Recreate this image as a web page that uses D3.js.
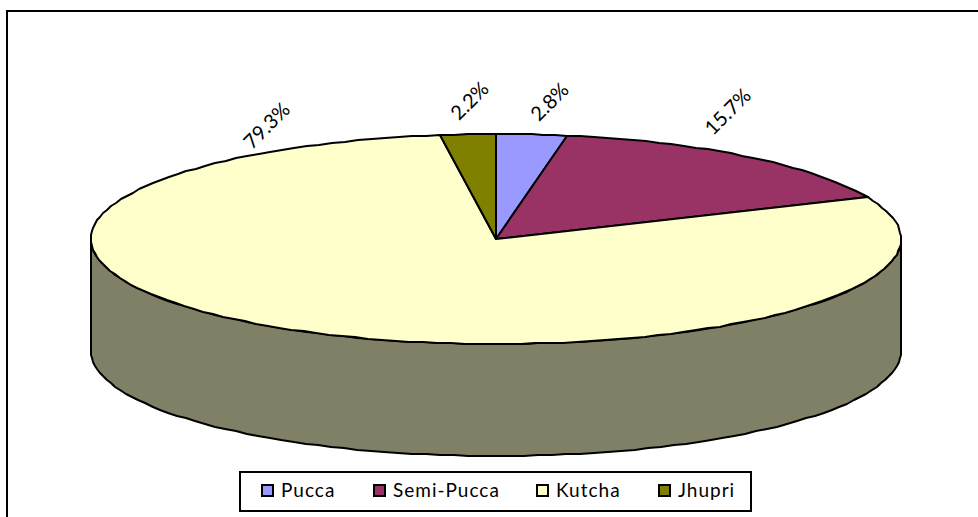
<!DOCTYPE html>
<html>
<head>
<meta charset="utf-8">
<script src="https://cdn.jsdelivr.net/npm/d3@7"></script>
<style>
  html, body { margin: 0; padding: 0; background: #fff; }
  svg { display: block; }
  text { font-family: Lato, "Open Sans", sans-serif; fill: #000; }
</style>
</head>
<body>
<script>
// values, percent of households
var categories = ["Pucca", "Semi-Pucca", "Kutcha", "Jhupri"];
var shares = [2.8, 15.7, 79.3, 2.2];
var shareLabels = ["2.8%", "15.7%", "79.3%", "2.2%"];

var colors = ["#9999FF", "#993366", "#FFFFCC", "#808000"];
var sideColor = "#808066";

var width = 978, height = 517;
var cx = 496, cy = 239, rx = 405, ry = 105, depth = 112;

// the labels were placed by hand in the original, not along the slice middle
var labelSpots = { "Pucca": [549, 101], "Semi-Pucca": [727, 111], "Kutcha": [266, 125], "Jhupri": [469, 100] };
var legendSpots = { "Pucca": 262, "Semi-Pucca": 374, "Kutcha": 537, "Jhupri": 659 };

var svg = d3.select("body").append("svg")
  .attr("width", width)
  .attr("height", height);

// chart frame, runs off the right and bottom of the image
svg.append("rect")
  .attr("x", 7).attr("y", 11)
  .attr("width", 1000).attr("height", 600)
  .attr("fill", "#fff")
  .attr("stroke", "#000")
  .attr("stroke-width", 2);

var pie = d3.pie().sort(null).value(function(d) { return d.value; });
var slices = pie(categories.map(function(c, i) {
  return { name: c, value: shares[i], color: colors[i], label: shareLabels[i] };
}));

// squashed circle: angle is clockwise from the top
function px(a) { return cx + rx * Math.sin(a); }
function py(a) { return cy - ry * Math.cos(a); }

var line = d3.line().curve(d3.curveLinear);

// whole pixels and short straight runs give the stepped rim of the original
function arcPoints(a0, a1, dy) {
  var n = Math.max(2, Math.ceil((a1 - a0) / 0.035));
  return d3.range(n + 1).map(function(i) {
    var a = a0 + (a1 - a0) * i / n;
    return [Math.round(px(a)), Math.round(py(a)) + dy];
  });
}

// side wall, only the front half of the rim shows
var front = arcPoints(Math.PI / 2, Math.PI * 3 / 2, 0);
var frontBottom = arcPoints(Math.PI / 2, Math.PI * 3 / 2, depth).reverse();
svg.append("path")
  .attr("d", line(front.concat(frontBottom)) + "Z")
  .attr("fill", sideColor)
  .attr("stroke", "#000")
  .attr("stroke-width", 2)
  .attr("stroke-linejoin", "round");

// top of the pie
svg.selectAll("path.slice")
  .data(slices)
  .enter()
  .append("path")
  .attr("class", "slice")
  .attr("d", function(d) {
    return line([[cx, cy]].concat(arcPoints(d.startAngle, d.endAngle, 0))) + "Z";
  })
  .attr("fill", function(d) { return d.data.color; })
  .attr("stroke", "#000")
  .attr("stroke-width", 2)
  .attr("stroke-linejoin", "round");

// data labels, turned 45 degrees
svg.selectAll("text.pct")
  .data(slices)
  .enter()
  .append("text")
  .attr("class", "pct")
  .attr("text-anchor", "middle")
  .attr("dominant-baseline", "central")
  .attr("font-size", 20)
  .attr("transform", function(d) {
    var p = labelSpots[d.data.name];
    return "translate(" + p[0] + "," + p[1] + ")rotate(-45)";
  })
  .text(function(d) { return d.data.label; });

// legend
svg.append("rect")
  .attr("x", 240).attr("y", 472)
  .attr("width", 511).attr("height", 39)
  .attr("fill", "#fff")
  .attr("stroke", "#000")
  .attr("stroke-width", 2);

var legend = svg.selectAll("g.key")
  .data(categories)
  .enter()
  .append("g")
  .attr("class", "key")
  .attr("transform", function(d) { return "translate(" + legendSpots[d] + ",485)"; });

legend.append("rect")
  .attr("width", 11).attr("height", 11)
  .attr("fill", function(d, i) { return colors[i]; })
  .attr("stroke", "#000")
  .attr("stroke-width", 2);

legend.append("text")
  .attr("x", 19).attr("y", 12)
  .attr("font-size", 19)
  .attr("letter-spacing", 1)
  .text(function(d) { return d; });
</script>
</body>
</html>
